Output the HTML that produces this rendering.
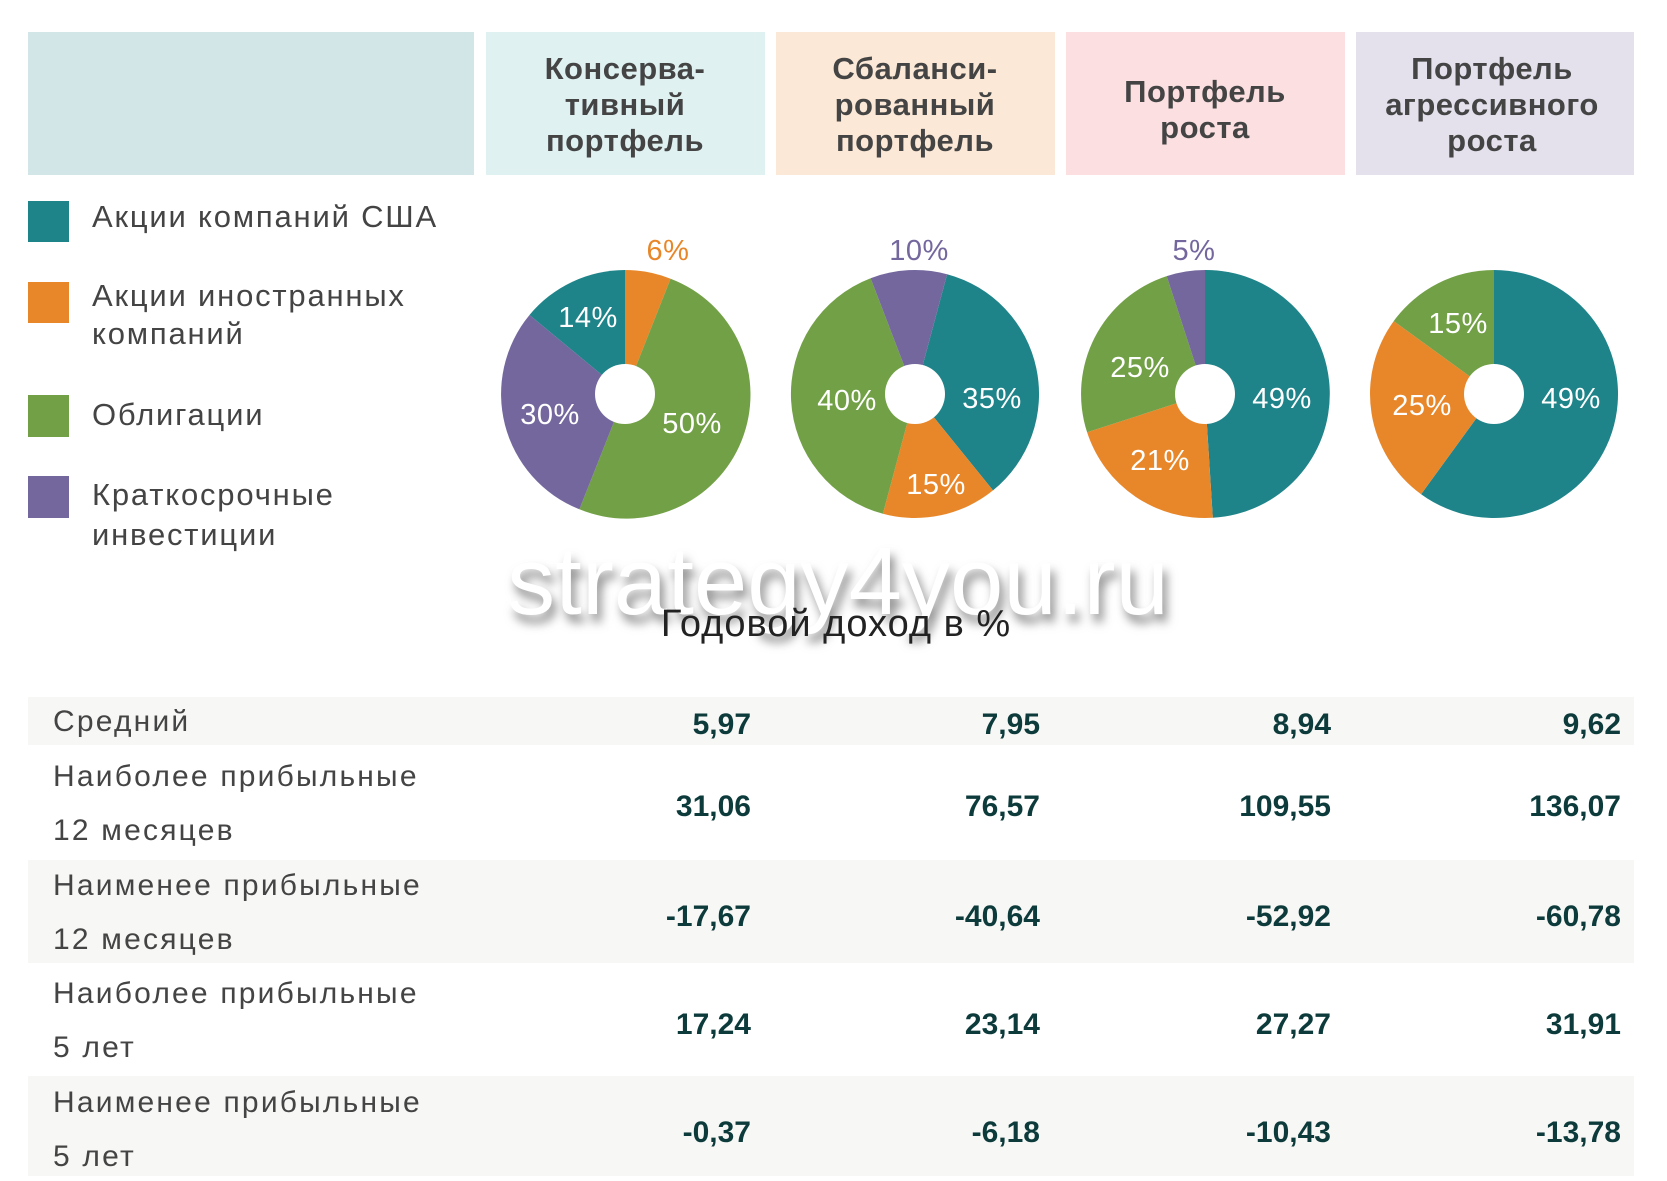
<!DOCTYPE html>
<html><head><meta charset="utf-8"><style>
html,body{margin:0;padding:0;background:#fff;}
svg{display:block;}
text{font-family:"Liberation Sans",sans-serif;}
</style></head><body>
<svg width="1667" height="1181" viewBox="0 0 1667 1181" xmlns="http://www.w3.org/2000/svg">
<defs>
<filter id="sh" x="-10%" y="-30%" width="120%" height="180%"><feGaussianBlur stdDeviation="5"/></filter>
</defs>
<!-- header -->
<rect x="28" y="32" width="446" height="143" fill="#d3e6e7"/>
<rect x="486" y="32" width="279" height="143" fill="#e0f1f2"/>
<rect x="776" y="32" width="279" height="143" fill="#fbe8d6"/>
<rect x="1066" y="32" width="279" height="143" fill="#fbdfe1"/>
<rect x="1356" y="32" width="278" height="143" fill="#e4e1ec"/>
<g font-size="31" font-weight="bold" fill="#444" text-anchor="middle" letter-spacing="0.5">
<text x="625" y="79">Консерва-</text><text x="625" y="115">тивный</text><text x="625" y="151">портфель</text>
<text x="915" y="79">Сбаланси-</text><text x="915" y="115">рованный</text><text x="915" y="151">портфель</text>
<text x="1205" y="102">Портфель</text><text x="1205" y="138">роста</text>
<text x="1492" y="79">Портфель</text><text x="1492" y="115">агрессивного</text><text x="1492" y="151">роста</text>
</g>
<!-- legend -->
<rect x="28" y="201" width="41" height="41" fill="#1e8489"/>
<rect x="28" y="282" width="41" height="41" fill="#e8872a"/>
<rect x="28" y="395" width="41" height="42" fill="#72a046"/>
<rect x="28" y="476" width="41" height="42" fill="#74679e"/>
<g font-size="31" fill="#444" letter-spacing="1.8">
<text x="92" y="227">Акции компаний США</text>
<text x="92" y="306">Акции иностранных</text><text x="92" y="344">компаний</text>
<text x="92" y="425">Облигации</text>
<text x="92" y="505">Краткосрочные</text><text x="92" y="545">инвестиции</text>
</g>
<!-- pie1 -->
<path d="M625,394 L625,270 A124,124 0 0 1 670.6,278.7 Z" fill="#e8872a"/>
<path d="M625,394 L670.6,278.7 A124,124 0 1 1 579.4,509.3 Z" fill="#72a046"/>
<path d="M625,394 L579.4,509.3 A124,124 0 0 1 529.5,315 Z" fill="#74679e"/>
<path d="M625,394 L529.5,315 A124,124 0 0 1 625,270 Z" fill="#1e8489"/>
<circle cx="625" cy="394" r="30" fill="#fff"/>
<!-- pie2 -->
<path d="M915,394 L947.1,274.2 A124,124 0 0 1 993,490.4 Z" fill="#1e8489"/>
<path d="M915,394 L993,490.4 A124,124 0 0 1 882.9,513.8 Z" fill="#e8872a"/>
<path d="M915,394 L882.9,513.8 A124,124 0 0 1 870.6,278.2 Z" fill="#72a046"/>
<path d="M915,394 L870.6,278.2 A124,124 0 0 1 947.1,274.2 Z" fill="#74679e"/>
<circle cx="915" cy="394" r="30" fill="#fff"/>
<!-- pie3 -->
<path d="M1205,394 L1205,270 A124,124 0 0 1 1212.8,517.8 Z" fill="#1e8489"/>
<path d="M1205,394 L1212.8,517.8 A124,124 0 0 1 1087.1,432.3 Z" fill="#e8872a"/>
<path d="M1205,394 L1087.1,432.3 A124,124 0 0 1 1166.7,276.1 Z" fill="#72a046"/>
<path d="M1205,394 L1166.7,276.1 A124,124 0 0 1 1205,270 Z" fill="#74679e"/>
<circle cx="1205" cy="394" r="30" fill="#fff"/>
<!-- pie4 -->
<path d="M1494,394 L1494,270 A124,124 0 1 1 1421.1,494.3 Z" fill="#1e8489"/>
<path d="M1494,394 L1421.1,494.3 A124,124 0 0 1 1393.7,321.1 Z" fill="#e8872a"/>
<path d="M1494,394 L1393.7,321.1 A124,124 0 0 1 1494,270 Z" fill="#72a046"/>
<circle cx="1494" cy="394" r="30" fill="#fff"/>
<!-- pie labels -->
<g font-size="29" text-anchor="middle" fill="#fff" letter-spacing="0.5">
<text x="668" y="260" fill="#e8872a">6%</text>
<text x="588" y="327">14%</text>
<text x="550" y="424">30%</text>
<text x="692" y="433">50%</text>
<text x="919" y="260" fill="#74679e">10%</text>
<text x="992" y="408">35%</text>
<text x="847" y="410">40%</text>
<text x="936" y="494">15%</text>
<text x="1194" y="260" fill="#74679e">5%</text>
<text x="1282" y="408">49%</text>
<text x="1140" y="377">25%</text>
<text x="1160" y="470">21%</text>
<text x="1458" y="333">15%</text>
<text x="1422" y="415">25%</text>
<text x="1571" y="408">49%</text>
</g>
<!-- watermark & title -->
<text x="838" y="614" font-size="96" text-anchor="middle" fill="#888" filter="url(#sh)" transform="translate(4,8)">strategy4you.ru</text>
<text x="838" y="614" font-size="96" text-anchor="middle" fill="#fff">strategy4you.ru</text>
<text x="836" y="636" font-size="38" text-anchor="middle" fill="#222" letter-spacing="1">Годовой доход в %</text>
<!-- table -->
<rect x="28" y="697" width="1606" height="48" fill="#f7f7f5"/>
<rect x="28" y="860" width="1606" height="103" fill="#f7f7f5"/>
<rect x="28" y="1076" width="1606" height="100" fill="#f7f7f5"/>
<g font-size="30" fill="#444" letter-spacing="2.2">
<text x="53" y="731">Средний</text>
<text x="53" y="786">Наиболее прибыльные</text><text x="53" y="840">12 месяцев</text>
<text x="53" y="895">Наименее прибыльные</text><text x="53" y="949">12 месяцев</text>
<text x="53" y="1003">Наиболее прибыльные</text><text x="53" y="1057">5 лет</text>
<text x="53" y="1112">Наименее прибыльные</text><text x="53" y="1166">5 лет</text>
</g>
<g font-size="30" font-weight="bold" fill="#0d3b3b" text-anchor="end">
<text x="751" y="734">5,97</text><text x="1040" y="734">7,95</text><text x="1331" y="734">8,94</text><text x="1621" y="734">9,62</text>
<text x="751" y="816">31,06</text><text x="1040" y="816">76,57</text><text x="1331" y="816">109,55</text><text x="1621" y="816">136,07</text>
<text x="751" y="926">-17,67</text><text x="1040" y="926">-40,64</text><text x="1331" y="926">-52,92</text><text x="1621" y="926">-60,78</text>
<text x="751" y="1034">17,24</text><text x="1040" y="1034">23,14</text><text x="1331" y="1034">27,27</text><text x="1621" y="1034">31,91</text>
<text x="751" y="1142">-0,37</text><text x="1040" y="1142">-6,18</text><text x="1331" y="1142">-10,43</text><text x="1621" y="1142">-13,78</text>
</g>
</svg>
</body></html>
